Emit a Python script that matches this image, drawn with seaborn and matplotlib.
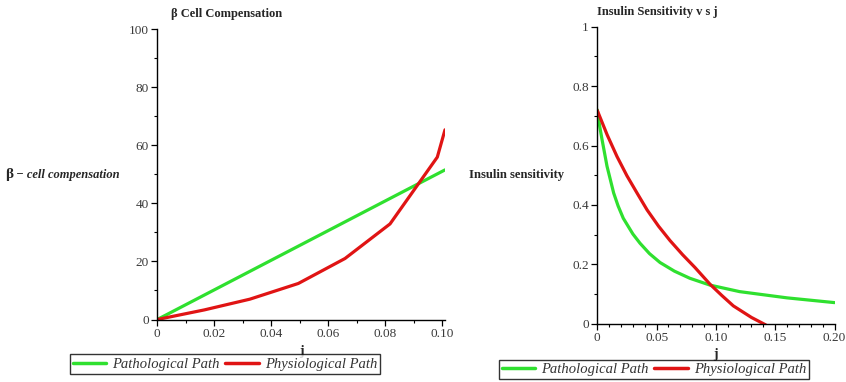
import matplotlib
matplotlib.use("Agg")
import matplotlib.pyplot as plt
import numpy as np
import pandas as pd
import seaborn as sns
from matplotlib.ticker import MultipleLocator
from matplotlib.lines import Line2D

# ---- data: beta-cell compensation vs j ----
beta_j_patho = [0.0, 0.02, 0.04, 0.06, 0.08, 0.101]
beta_patho = [0.0, 10.2, 20.4, 30.6, 40.8, 51.5]
beta_j_physio = [0.0, 0.0165, 0.0325, 0.0495, 0.0659, 0.0817, 0.0983, 0.101]
beta_physio = [0.0, 3.3, 7.0, 12.4, 21.0, 32.9, 55.9, 65.3]

# ---- data: insulin sensitivity vs j ----
si_j_patho = [0.0, 0.0020, 0.0040, 0.0082, 0.0138, 0.0175, 0.0219, 0.030,
              0.036, 0.044, 0.0529, 0.065, 0.078, 0.095, 0.12, 0.16, 0.2]
si_patho = [0.72, 0.665, 0.62, 0.53, 0.44, 0.397, 0.355, 0.302,
            0.271, 0.236, 0.206, 0.177, 0.153, 0.130, 0.108, 0.087, 0.071]
si_j_physio = [0.0, 0.0083, 0.0166, 0.025, 0.0335, 0.042, 0.0517, 0.0613,
               0.072, 0.0824, 0.095, 0.105, 0.1147, 0.130, 0.142]
si_physio = [0.718, 0.636, 0.563, 0.498, 0.44, 0.383, 0.328, 0.280,
             0.232, 0.189, 0.133, 0.095, 0.060, 0.021, -0.004]

series_names = ["Pathological Path", "Physiological Path"]
colors = {"Pathological Path": "#2fe02f", "Physiological Path": "#e01414"}

left_xticks = [0, 0.02, 0.04, 0.06, 0.08, 0.10]
left_xticklabels = ["0", "0.02", "0.04", "0.06", "0.08", "0.10"]
left_yticks = [0, 20, 40, 60, 80, 100]
right_xticks = [0, 0.05, 0.10, 0.15, 0.20]
right_xticklabels = ["0", "0.05", "0.10", "0.15", "0.20"]
right_yticks = [0, 0.2, 0.4, 0.6, 0.8, 1.0]
right_yticklabels = ["0", "0.2", "0.4", "0.6", "0.8", "1"]


def long_frame(j1, v1, j2, v2):
    return pd.concat([
        pd.DataFrame({"j": j1, "value": v1, "path": series_names[0]}),
        pd.DataFrame({"j": j2, "value": v2, "path": series_names[1]}),
    ], ignore_index=True)


df_beta = long_frame(beta_j_patho, beta_patho, beta_j_physio, beta_physio)
df_si = long_frame(si_j_patho, si_patho, si_j_physio, si_physio)

sns.set_theme(style="ticks")
plt.rcParams["font.family"] = ["Liberation Serif", "DejaVu Serif"]

W, H = 846, 382
fig = plt.figure(figsize=(W / 100, H / 100), dpi=100)
fig.patch.set_facecolor("white")


def px_axes(x0, y0, x1, y1):
    return fig.add_axes([x0 / W, 1 - y1 / H, (x1 - x0) / W, (y1 - y0) / H])


ax1 = px_axes(157.3, 29.0, 445.0, 319.5)
ax2 = px_axes(597.3, 26.7, 834.5, 323.7)

for ax, df in ((ax1, df_beta), (ax2, df_si)):
    sns.lineplot(data=df, x="j", y="value", hue="path", palette=colors,
                 estimator=None, sort=False, lw=2.3, ax=ax, legend=False)
    ax.set_facecolor("white")
    for s in ("top", "right"):
        ax.spines[s].set_visible(False)
    for s in ("left", "bottom"):
        ax.spines[s].set_color("black")
        ax.spines[s].set_linewidth(1.0)
    ax.tick_params(which="major", direction="out", length=4, width=0.9,
                   color="black", labelsize=9.5, labelcolor="#3a3a3a", pad=2)
    ax.tick_params(which="minor", direction="out", length=2.5, width=0.8,
                   color="black")
    ax.set_ylabel("")
    ax.set_xlabel("j", fontsize=10, fontweight="bold")

ax1.set_xlim(0, 0.101)
ax1.set_ylim(0, 100)
ax1.set_xticks(left_xticks, left_xticklabels)
ax1.set_yticks(left_yticks)
ax1.xaxis.set_minor_locator(MultipleLocator(0.01))
ax1.yaxis.set_minor_locator(MultipleLocator(10))
ax1.xaxis.set_label_coords(0.5, -0.11)
ax1.xaxis.label.set_va("center")

ax2.set_xlim(0, 0.2)
ax2.set_ylim(0, 1)
ax2.set_xticks(right_xticks, right_xticklabels)
ax2.set_yticks(right_yticks, right_yticklabels)
ax2.xaxis.set_minor_locator(MultipleLocator(0.01))
ax2.yaxis.set_minor_locator(MultipleLocator(0.1))
ax2.xaxis.set_label_coords(0.5, -0.105)
ax2.xaxis.label.set_va("center")

# titles
fig.text(171 / W, 1 - 14 / H, "β Cell Compensation", fontsize=9,
         fontweight="bold", ha="left", va="center")
fig.text(597 / W, 1 - 12 / H, "Insulin Sensitivity v s j", fontsize=9,
         fontweight="bold", ha="left", va="center")

# y-axis labels (horizontal, to the left of each axis)
t_beta = fig.text(5 / W, 1 - 175 / H, "β", fontsize=11, fontweight="bold",
                  ha="left", va="center")
fig.canvas.draw()
ax1.annotate(" − cell compensation", xy=(1, 0.5), xycoords=t_beta,
             ha="left", va="center", fontsize=9, fontstyle="italic",
             fontweight="semibold", annotation_clip=False)
fig.text(516.5 / W, 1 - 175 / H, "Insulin sensitivity", fontsize=9.1,
         fontweight="bold", ha="center", va="center")

# legends
handles = [Line2D([], [], color=colors[n], lw=2.5) for n in series_names]
for cx, cy in ((225, 364), (654, 369.5)):
    leg = fig.legend(handles, series_names, loc="center",
                     bbox_to_anchor=(cx / W, 1 - cy / H), ncol=2,
                     frameon=True, fancybox=False, shadow=False,
                     handlelength=2.3, handletextpad=0.4,
                     columnspacing=0.4, borderpad=0.22, borderaxespad=0,
                     prop={"style": "italic", "size": 10.5})
    leg.get_frame().set_edgecolor("black")
    leg.get_frame().set_linewidth(1.0)
    for txt in leg.get_texts():
        txt.set_color("#333333")

fig.savefig("out.png", dpi=100, facecolor="white")
